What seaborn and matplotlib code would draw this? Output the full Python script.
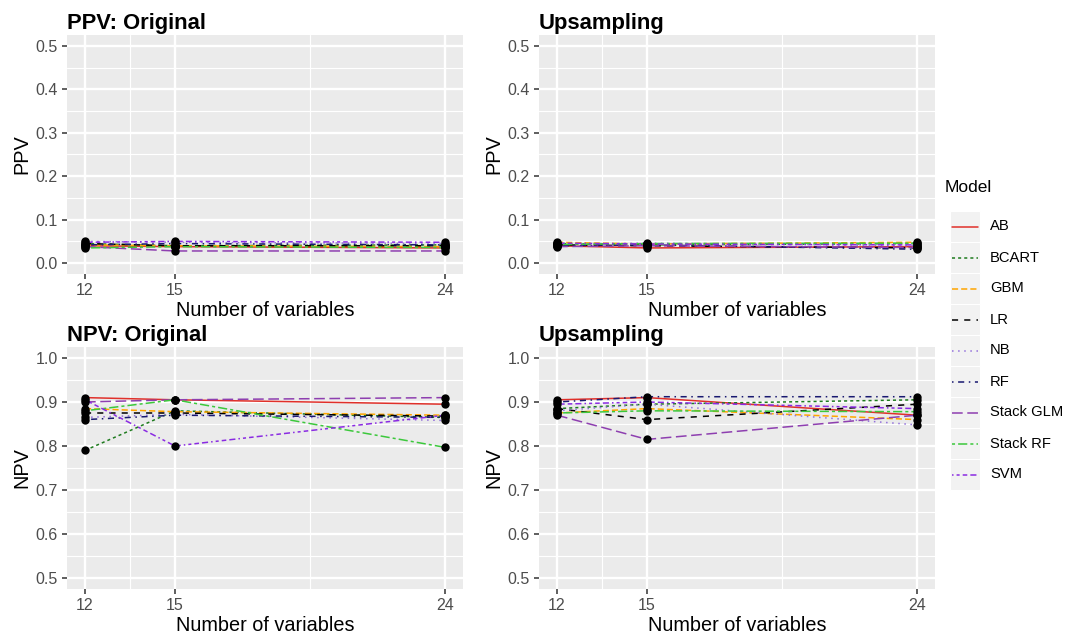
import numpy as np
import pandas as pd
import matplotlib
matplotlib.use("Agg")
import matplotlib.pyplot as plt
import seaborn as sns
from matplotlib.lines import Line2D
from matplotlib.patches import Rectangle

# ---------------- data ----------------
models = ["AB", "BCART", "GBM", "LR", "NB", "RF", "Stack GLM", "Stack RF", "SVM"]
n_vars = [12, 15, 24]

ppv_original = {
    "AB":        [0.040, 0.038, 0.035],
    "BCART":     [0.045, 0.040, 0.042],
    "GBM":       [0.042, 0.040, 0.038],
    "LR":        [0.045, 0.040, 0.040],
    "NB":        [0.050, 0.048, 0.045],
    "RF":        [0.042, 0.045, 0.042],
    "Stack GLM": [0.038, 0.028, 0.028],
    "Stack RF":  [0.035, 0.038, 0.036],
    "SVM":       [0.048, 0.050, 0.048],
}
ppv_upsampling = {
    "AB":        [0.040, 0.035, 0.038],
    "BCART":     [0.045, 0.042, 0.045],
    "GBM":       [0.048, 0.044, 0.048],
    "LR":        [0.042, 0.040, 0.035],
    "NB":        [0.044, 0.046, 0.040],
    "RF":        [0.040, 0.042, 0.032],
    "Stack GLM": [0.038, 0.040, 0.036],
    "Stack RF":  [0.043, 0.045, 0.046],
    "SVM":       [0.046, 0.044, 0.042],
}
npv_original = {
    "AB":        [0.910, 0.905, 0.895],
    "BCART":     [0.790, 0.880, 0.865],
    "GBM":       [0.885, 0.878, 0.870],
    "LR":        [0.875, 0.875, 0.868],
    "NB":        [0.865, 0.872, 0.858],
    "RF":        [0.860, 0.870, 0.865],
    "Stack GLM": [0.900, 0.905, 0.910],
    "Stack RF":  [0.880, 0.905, 0.797],
    "SVM":       [0.905, 0.800, 0.870],
}
npv_upsampling = {
    "AB":        [0.905, 0.910, 0.870],
    "BCART":     [0.885, 0.895, 0.905],
    "GBM":       [0.875, 0.885, 0.860],
    "LR":        [0.885, 0.860, 0.895],
    "NB":        [0.880, 0.895, 0.848],
    "RF":        [0.900, 0.912, 0.912],
    "Stack GLM": [0.870, 0.815, 0.870],
    "Stack RF":  [0.875, 0.880, 0.878],
    "SVM":       [0.895, 0.900, 0.885],
}

ppv_ticks = [0.0, 0.1, 0.2, 0.3, 0.4, 0.5]
npv_ticks = [0.5, 0.6, 0.7, 0.8, 0.9, 1.0]

# ---------------- styles ----------------
colors = {
    "AB": "#E0302A", "BCART": "#1E7B1E", "GBM": "#FFA500", "LR": "#000000",
    "NB": "#9370DB", "RF": "#191970", "Stack GLM": "#8E3FB0", "Stack RF": "#3CC83C",
    "SVM": "#8A2BE2",
}
dashes = {
    "AB": "", "BCART": (2, 2), "GBM": (4, 2), "LR": (4, 4), "NB": (1, 3),
    "RF": (1, 3, 4, 3), "Stack GLM": (7, 3), "Stack RF": (2, 2, 6, 2),
    "SVM": (1, 2, 2, 2, 3, 2, 4, 2),
}

sns.set_theme(style="darkgrid")
plt.rcParams["font.family"] = ["Liberation Sans", "DejaVu Sans"]
plt.rcParams["text.color"] = "black"
plt.rcParams["axes.labelcolor"] = "black"

W, H = 1078, 639
fig = plt.figure(figsize=(W / 100, H / 100), dpi=100)
fig.patch.set_facecolor("white")


def px_axes(l, t, r, b):
    return fig.add_axes([l / W, 1 - b / H, (r - l) / W, (b - t) / H])


def long_df(d):
    rows = []
    for m in models:
        for x, v in zip(n_vars, d[m]):
            rows.append({"Model": m, "n": x, "value": v})
    return pd.DataFrame(rows)


LW = 1.1


def panel(ax, d, title, ylabel, yticks):
    df = long_df(d)
    sns.lineplot(data=df, x="n", y="value", hue="Model", style="Model",
                 hue_order=models, style_order=models, palette=colors,
                 dashes=dashes, linewidth=LW, ax=ax, legend=False)
    sns.scatterplot(data=df, x="n", y="value", color="black", s=36,
                    linewidth=0, ax=ax, legend=False, zorder=5)
    ax.set_facecolor("#EBEBEB")
    for s in ax.spines.values():
        s.set_visible(False)
    ax.set_xlim(11.4, 24.6)
    lo, hi = yticks[0], yticks[-1]
    pad = (hi - lo) * 0.05
    ax.set_ylim(lo - pad, hi + pad)
    ax.set_xticks(n_vars)
    ax.set_xticklabels([str(v) for v in n_vars])
    ax.set_xticks([13.5, 19.5], minor=True)
    ax.set_yticks(yticks)
    ax.set_yticklabels([f"{v:.1f}" for v in yticks])
    ax.set_yticks([v + 0.05 for v in yticks[:-1]], minor=True)
    ax.grid(True, which="major", color="white", linewidth=1.7)
    ax.grid(True, which="minor", color="white", linewidth=0.85)
    ax.set_axisbelow(True)
    ax.tick_params(which="major", length=3.6, width=1.1, color="#333333",
                   labelcolor="#4D4D4D", labelsize=11.5, pad=3,
                   bottom=True, left=True)
    ax.tick_params(which="minor", length=0)
    ax.set_xlabel("Number of variables", fontsize=14.3, color="black", labelpad=2)
    ax.set_ylabel(ylabel, fontsize=14.3, color="black", labelpad=3)
    ax.set_title(title, loc="left", fontsize=15.8, fontweight="bold",
                 color="black", pad=4)


ax1 = px_axes(67, 35, 463, 274)
ax2 = px_axes(539, 35, 935, 274)
ax3 = px_axes(67, 347, 463, 589)
ax4 = px_axes(539, 347, 935, 589)

panel(ax1, ppv_original, "PPV: Original", "PPV", ppv_ticks)
panel(ax2, ppv_upsampling, "Upsampling", "PPV", ppv_ticks)
panel(ax3, npv_original, "NPV: Original", "NPV", npv_ticks)
panel(ax4, npv_upsampling, "Upsampling", "NPV", npv_ticks)

# ---------------- legend ----------------
lax = px_axes(940, 170, 1078, 500)
lax.set_xlim(940, 1078)
lax.set_ylim(500, 170)
lax.axis("off")
lax.text(945, 187, "Model", fontsize=12.5, va="center", ha="left", color="black")
key_top, key_h = 211, 31
for i, m in enumerate(models):
    y0 = key_top + i * key_h
    lax.add_patch(Rectangle((950, y0), 30, key_h, facecolor="#F2F2F2",
                            edgecolor="white", linewidth=0.8))
    yc = y0 + key_h / 2
    ln = Line2D([952, 978], [yc, yc], color=colors[m], linewidth=LW)
    if dashes[m]:
        ln.set_dashes(dashes[m])
    lax.add_line(ln)
    lax.text(990, yc, m, fontsize=10.6, va="center", ha="left", color="black")

fig.savefig("out.png", dpi=100, facecolor="white")
